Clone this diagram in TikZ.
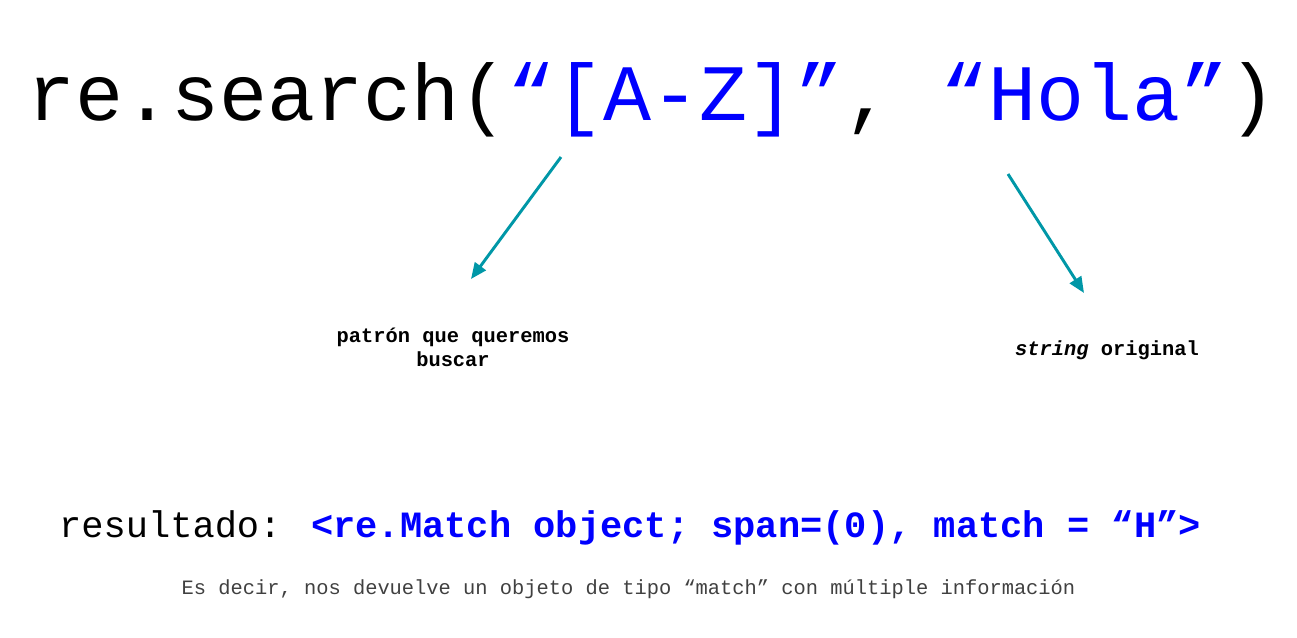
\documentclass[tikz,border=0pt]{standalone}
\usepackage{fontspec}
\setmainfont{Liberation Mono}
\usetikzlibrary{arrows.meta}
\definecolor{codeblue}{HTML}{0000FF}
\definecolor{arrowteal}{HTML}{0097A7}
\definecolor{notegray}{HTML}{404040}
\tikzset{
  titletext/.style={anchor=base, inner sep=0pt, font=\fontsize{60}{70}\selectfont},
  resulttext/.style={anchor=base, inner sep=0pt, font=\fontsize{27.8}{32}\selectfont},
  labeltext/.style={anchor=base, inner sep=0pt, align=center, font=\fontsize{15.3}{18}\selectfont\bfseries},
  notetext/.style={anchor=base, inner sep=0pt, text=notegray, font=\fontsize{15.3}{18}\selectfont},
  pointer/.style={draw=arrowteal, line width=2.2pt, -{Triangle[length=12pt,width=10pt]}}
}
\begin{document}
\begin{tikzpicture}[x=0.75pt, y=-0.75pt]
\useasboundingbox (0,0) rectangle (1297,637);
\node[titletext] (title) at (652,120) {re.search(\textcolor{codeblue}{“[A-Z]”}, \textcolor{codeblue}{“Hola”})};
\coordinate (pstart) at (561,157);
\coordinate (pend) at (471,279);
\coordinate (sstart) at (1008,174);
\coordinate (send) at (1084,293);
\draw[pointer] (pstart) -- (pend);
\draw[pointer] (sstart) -- (send);
\node[labeltext, anchor=north] (patlabel) at (453,328) {patrón que queremos\\buscar};
\node[labeltext] (strlabel) at (1107,355) {\textit{string} original};
\node[resulttext] (result) at (630,537) {resultado: \textcolor{codeblue}{\bfseries <re.Match object; span=(0), match = “H”>}};
\node[notetext] (note) at (628.5,594) {Es decir, nos devuelve un objeto de tipo “match” con múltiple información};
\end{tikzpicture}
\end{document}
